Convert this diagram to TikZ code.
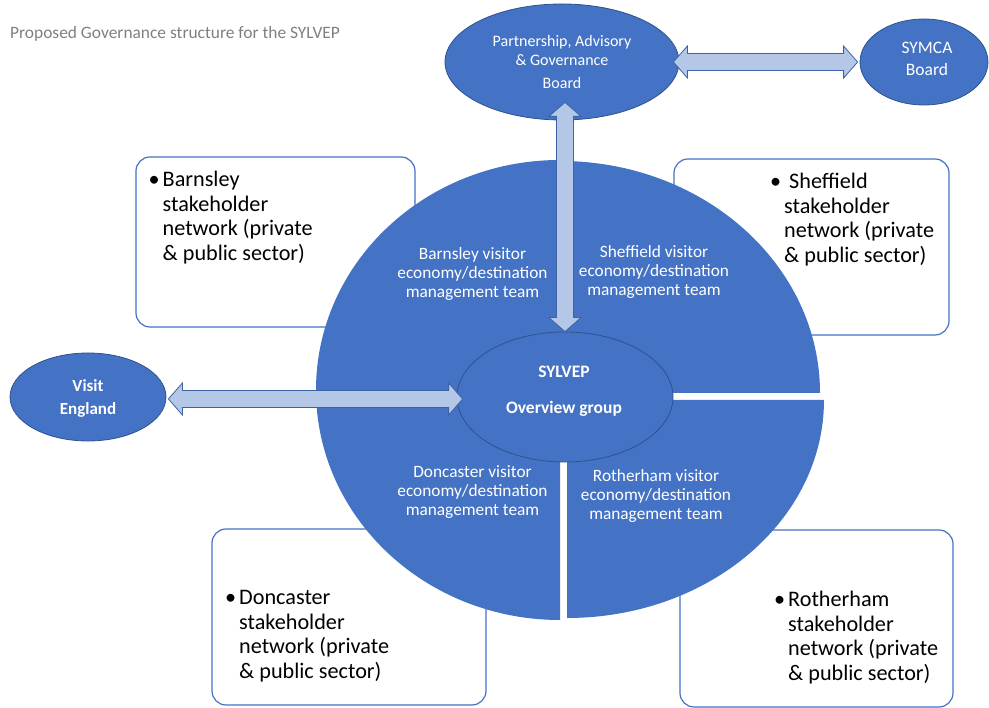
\documentclass[tikz,border=0pt]{standalone}
\usepackage{fontspec}
\setmainfont{Carlito}
\usetikzlibrary{shapes.geometric,calc}
\definecolor{myblue}{RGB}{68,114,196}
\definecolor{darkblue}{RGB}{47,82,143}
\definecolor{lightblue}{RGB}{180,199,231}
\definecolor{arrowblue}{RGB}{60,100,165}
\definecolor{mygray}{RGB}{127,127,127}
\tikzset{% 
    board/.style={%
        ellipse, draw=darkblue, line width=0.8pt, fill=myblue, inner sep=0pt
    }
}
\tikzset{% 
    network/.style={%
        draw=myblue, line width=1.2pt, rounded corners=14pt, fill=white
    }
}
\tikzset{% 
    team/.style={%
        align=center, text=white, font=\fontsize{17.3}{19.2}\selectfont
    }
}
\tikzset{% 
    netitem/.style={%
        anchor=base west, inner sep=0pt, font=\fontsize{22.2}{24.4}\selectfont
    }
}
\tikzset{% 
    fat/.style={%
        draw=arrowblue, line width=0.8pt, fill=lightblue, line join=miter
    }
}
\newcommand{\bigarrow}[2]{%
  \coordinate (ha) at ($(#1)!14pt!(#2)$);
  \coordinate (hb) at ($(#2)!14pt!(#1)$);
  \draw[fat] (#1) -- ($(ha)!16pt!90:(#2)$) -- ($(ha)!8.5pt!90:(#2)$) -- ($(hb)!8.5pt!-90:(#1)$) -- ($(hb)!16pt!-90:(#1)$) -- (#2)
    -- ($(hb)!16pt!90:(#1)$) -- ($(hb)!8.5pt!90:(#1)$) -- ($(ha)!8.5pt!-90:(#2)$) -- ($(ha)!16pt!-90:(#2)$) -- cycle;
}
\newcommand{\bulletlist}[1]{\makebox[14pt][l]{\textbullet}\begin{tabular}[t]{@{}l@{}}#1\end{tabular}}

\begin{document}
\begin{tikzpicture}[x=1pt,y=1pt]
  \useasboundingbox (0,0) rectangle (989,708);
  %\draw[step=10pt,gray,very thin] (0,0) grid (989,708);

  \node[anchor=base west, inner sep=0pt, text=mygray, font=\fontsize{17.4}{20}\selectfont] (Title) at (10,669) {Proposed Governance structure for the SYLVEP};

  % stakeholder boxes
  \node[network, minimum width=279pt, minimum height=170pt] (BarnNet) at (275.5,466) {};
  \node[network, minimum width=275pt, minimum height=176pt] (ShefNet) at (811.5,461) {};
  \node[network, minimum width=274pt, minimum height=176pt] (DoncNet) at (349,91) {};
  \node[network, minimum width=273pt, minimum height=177pt] (RothNet) at (816.5,89.5) {};

  \node[netitem] (BarnItem) at (148.5,521) {\bulletlist{Barnsley\\stakeholder\\network (private\\\& public sector)}};
  \node[netitem] (ShefItem) at (770,519) {\bulletlist{\ Sheffield\\stakeholder\\network (private\\\& public sector)}};
  \node[netitem] (DoncItem) at (225,103) {\bulletlist{Doncaster\\stakeholder\\network (private\\\& public sector)}};
  \node[netitem] (RothItem) at (774,101) {\bulletlist{Rotherham\\stakeholder\\network (private\\\& public sector)}};

  % quadrants of the big circle
  \fill[myblue] (560,318) -- (560,548) arc[start angle=90, end angle=270, x radius=244pt, y radius=230pt] -- cycle;
  \fill[myblue] (560,315) -- (820,315) arc[start angle=0, end angle=90, x radius=260pt, y radius=232pt] -- cycle;
  \fill[myblue] (567,308) -- (567,90) arc[start angle=270, end angle=360, x radius=257pt, y radius=218pt] -- cycle;

  % boards
  \node[board, minimum width=216pt, minimum height=130pt] (SYL) at (565,311) {};
  \node[board, minimum width=234pt, minimum height=116pt] (PAB) at (562,646) {};
  \node[board, minimum width=128pt, minimum height=86pt] (SYMCA) at (924,646) {};
  \node[board, minimum width=156pt, minimum height=88pt] (VE) at (88,311) {};

  % arrows
  \coordinate (pabE) at ([xshift=-6pt]PAB.east);
  \coordinate (symW) at ([xshift=-2pt]SYMCA.west);
  \bigarrow{pabE}{symW}
  \coordinate (pabS) at ([xshift=3pt,yshift=18pt]PAB.south);
  \bigarrow{pabS}{SYL.north}
  \coordinate (veE) at ([xshift=2pt,yshift=-2pt]VE.east);
  \coordinate (sylW) at ([xshift=6pt,yshift=-2pt]SYL.west);
  \bigarrow{veE}{sylW}

  % labels
  \node[team] (BarnTeam) at (472.5,434) {Barnsley visitor\\economy/destination\\management team};
  \node[team] (ShefTeam) at (654,436) {Sheffield visitor\\economy/destination\\management team};
  \node[team] (DoncTeam) at (472.5,216) {Doncaster visitor\\economy/destination\\management team};
  \node[team] (RothTeam) at (656,212) {Rotherham visitor\\economy/destination\\management team};

  \node[align=center, text=white, font=\fontsize{16}{19}\selectfont] (PABtxt) at (562,657.5) {Partnership, Advisory\\\& Governance};
  \node[anchor=base, text=white, font=\fontsize{16}{19}\selectfont] (PABbrd) at (562,619) {Board};
  \node[align=center, text=white, font=\fontsize{17.5}{22}\selectfont] (SYMCAtxt) at (927,649.5) {SYMCA\\Board};
  \node[align=center, text=white, font=\bfseries\fontsize{17}{23}\selectfont] (VEtxt) at (88,310) {Visit\\England};
  \node[align=center, text=white, font=\bfseries\fontsize{17.5}{18}\selectfont] (SYLtxt) at (564,317) {SYLVEP\\[18pt]Overview group};
\end{tikzpicture}
\end{document}
